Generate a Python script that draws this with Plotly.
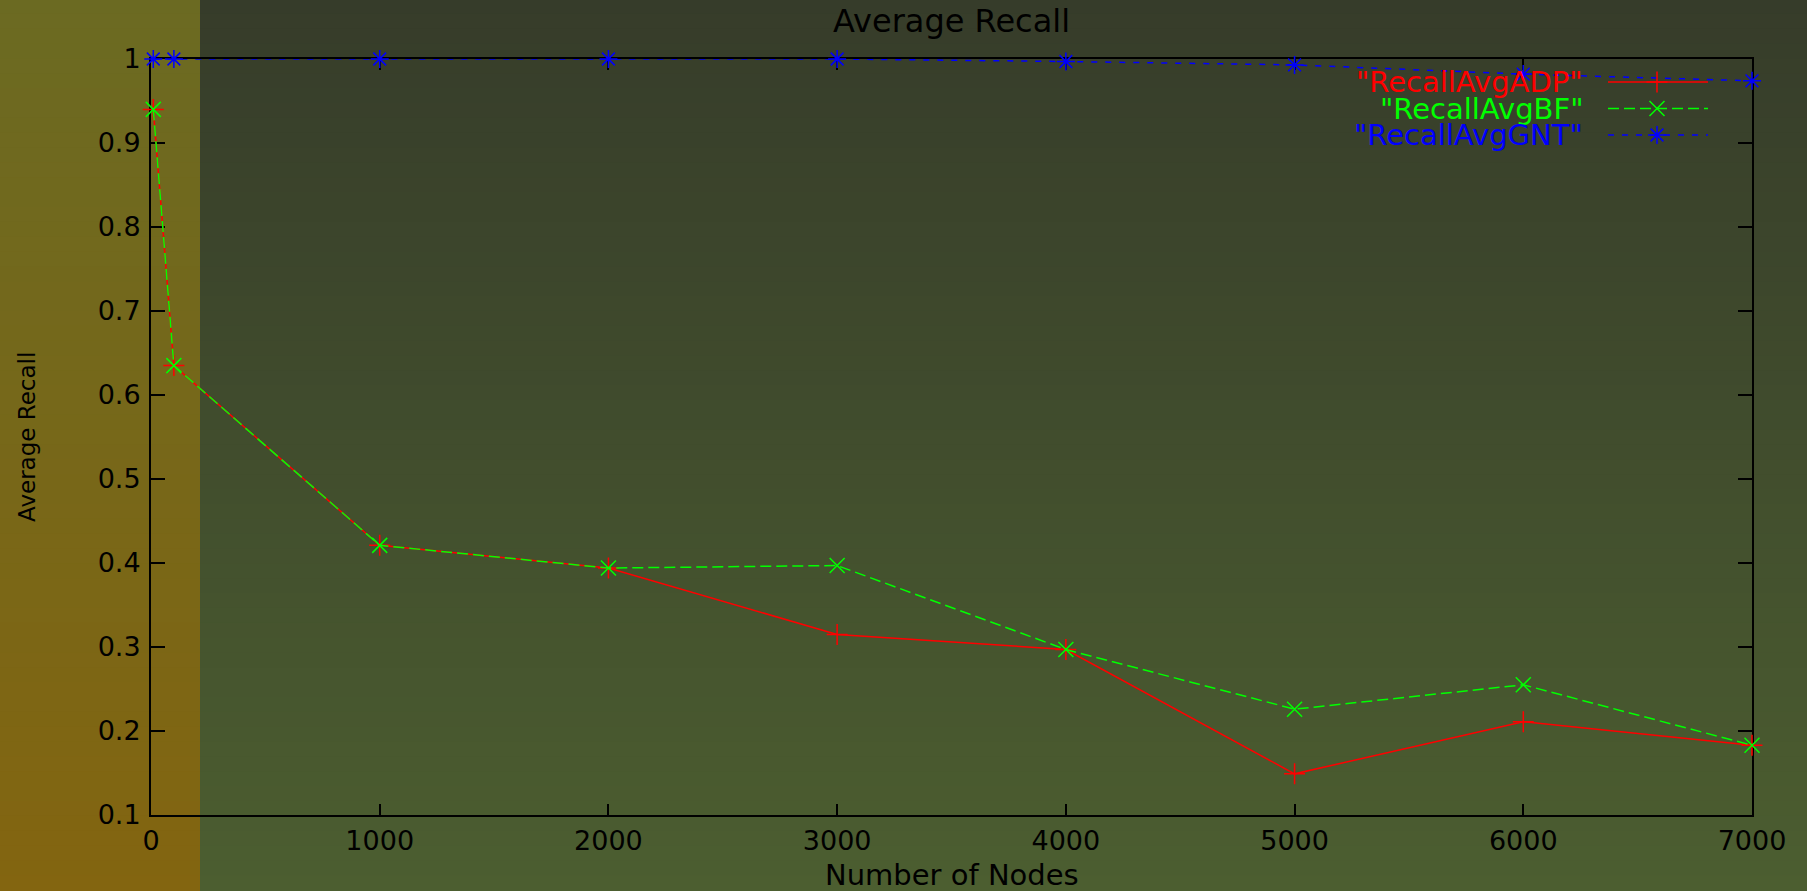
import plotly.graph_objects as go

# ---- data ----
nodes = [10, 100, 1000, 2000, 3000, 4000, 5000, 6000, 7000]
recall_adp = [0.94, 0.635, 0.421, 0.394, 0.315, 0.297, 0.149, 0.211, 0.183]
recall_bf = [0.94, 0.635, 0.421, 0.394, 0.397, 0.297, 0.226, 0.255, 0.183]
recall_gnt = [1.0, 1.0, 1.0, 1.0, 1.0, 0.997, 0.993, 0.982, 0.974]
series_names = ['"RecallAvgADP"', '"RecallAvgBF"', '"RecallAvgGNT"']
x_ticks = [0, 1000, 2000, 3000, 4000, 5000, 6000, 7000]
y_ticks = [0.1, 0.2, 0.3, 0.4, 0.5, 0.6, 0.7, 0.8, 0.9, 1.0]
y_tick_labels = ["0.1", "0.2", "0.3", "0.4", "0.5", "0.6", "0.7", "0.8", "0.9", "1"]

W, H = 1807, 891
ML, MR, MT, MB = 151, 55, 59, 76
PW, PH = W - ML - MR, H - MT - MB

def px2paper_x(px):
    return (px - ML) / PW

def px2paper_y(py):
    return 1 - (py - MT) / PH

FONT = "DejaVu Sans"
RED, GREEN, BLUE = "#ff0000", "#00ff00", "#0000ff"
styles = [
    dict(color=RED, dash="solid", symbol="cross-thin-open", size=15),
    dict(color=GREEN, dash="11px,5px", symbol="x-thin-open", size=15),
    dict(color=BLUE, dash="6px,8px", symbol="asterisk-open", size=15),
]
values = [recall_adp, recall_bf, recall_gnt]

fig = go.Figure()
for name, vals, st in zip(series_names, values, styles):
    fig.add_trace(go.Scatter(
        x=nodes, y=vals, mode="lines+markers", name=name, showlegend=False,
        line=dict(color=st["color"], width=1.5, dash=st["dash"]),
        marker=dict(symbol=st["symbol"], size=st["size"], color=st["color"],
                    line=dict(color=st["color"], width=1.5)),
        cliponaxis=False,
    ))

# ---- gnuplot-style key (text on the left, sample on the right) ----
key_rows_px = [82, 108.5, 135]
key_x0, key_x1, key_xm, key_text = 1608, 1708, 1657, 1585
annotations = []
for name, st, ry in zip(series_names, styles, key_rows_px):
    yy = px2paper_y(ry)
    fig.add_trace(go.Scatter(
        x=[px2paper_x(key_x0), px2paper_x(key_x1)], y=[yy, yy],
        xaxis="x2", yaxis="y2", mode="lines", showlegend=False,
        line=dict(color=st["color"], width=1.5, dash=st["dash"]),
        hoverinfo="skip",
    ))
    fig.add_trace(go.Scatter(
        x=[px2paper_x(key_xm)], y=[yy], xaxis="x2", yaxis="y2",
        mode="markers", showlegend=False, hoverinfo="skip",
        marker=dict(symbol=st["symbol"], size=st["size"], color=st["color"],
                    line=dict(color=st["color"], width=1.5)),
    ))
    annotations.append(dict(
        text=name, xref="paper", yref="paper", x=px2paper_x(key_text), y=yy,
        xanchor="right", yanchor="middle", showarrow=False,
        font=dict(family=FONT, size=29, color=st["color"]),
    ))

# titles
annotations.append(dict(text="Average Recall", xref="paper", yref="paper",
                        x=0.5, y=px2paper_y(21), xanchor="center", yanchor="middle",
                        showarrow=False, font=dict(family=FONT, size=32, color="black")))
annotations.append(dict(text="Number of Nodes", xref="paper", yref="paper",
                        x=0.5, y=px2paper_y(875), xanchor="center", yanchor="middle",
                        showarrow=False, font=dict(family=FONT, size=29, color="black")))
annotations.append(dict(text="Average Recall", xref="paper", yref="paper",
                        x=px2paper_x(27), y=0.5, xanchor="center", yanchor="middle",
                        textangle=-90, showarrow=False,
                        font=dict(family=FONT, size=23, color="black")))

# ---- background gradients (vertical) ----
def lerp(c0, c1, t):
    return "rgb(%d,%d,%d)" % tuple(round(a + (b - a) * t) for a, b in zip(c0, c1))

shapes = []
NB = 60
strip_top, strip_bot = (107, 106, 34), (131, 101, 16)
main_top, main_bot = (54, 60, 42), (76, 94, 48)
for i in range(NB):
    y0px = H * i / NB - 1
    y1px = H * (i + 1) / NB + 1
    t = (i + 0.5) / NB
    shapes.append(dict(type="rect", xref="paper", yref="paper", layer="below",
                       x0=px2paper_x(-2), x1=px2paper_x(200),
                       y0=px2paper_y(y1px), y1=px2paper_y(y0px),
                       fillcolor=lerp(strip_top, strip_bot, t), line=dict(width=0)))
    shapes.append(dict(type="rect", xref="paper", yref="paper", layer="below",
                       x0=px2paper_x(200), x1=px2paper_x(W + 2),
                       y0=px2paper_y(y1px), y1=px2paper_y(y0px),
                       fillcolor=lerp(main_top, main_bot, t), line=dict(width=0)))

axis_common = dict(
    showgrid=False, zeroline=False, showline=True, linecolor="black", linewidth=2,
    mirror="ticks", ticks="inside", tickcolor="black", tickwidth=1.5,
    tickfont=dict(family=FONT, size=27, color="black"), layer="below traces",
)

fig.update_layout(
    width=W, height=H, autosize=False,
    margin=dict(l=ML, r=MR, t=MT, b=MB, pad=0),
    paper_bgcolor="rgb(64,76,45)", plot_bgcolor="rgba(0,0,0,0)",
    showlegend=False,
    xaxis=dict(range=[0, 7000], tickvals=x_ticks, ticklen=11,
               ticklabelstandoff=1, **axis_common),
    yaxis=dict(range=[0.1, 1.0], tickvals=y_ticks, ticktext=y_tick_labels,
               ticklen=14, ticklabelstandoff=3, **axis_common),
    xaxis2=dict(overlaying="x", range=[0, 1], visible=False, fixedrange=True),
    yaxis2=dict(overlaying="y", range=[0, 1], visible=False, fixedrange=True),
    shapes=shapes, annotations=annotations,
)

fig.write_html(
    "out.html",
    config={"displayModeBar": False},
    post_script="document.body.style.margin='0';document.body.style.overflow='hidden';",
)
